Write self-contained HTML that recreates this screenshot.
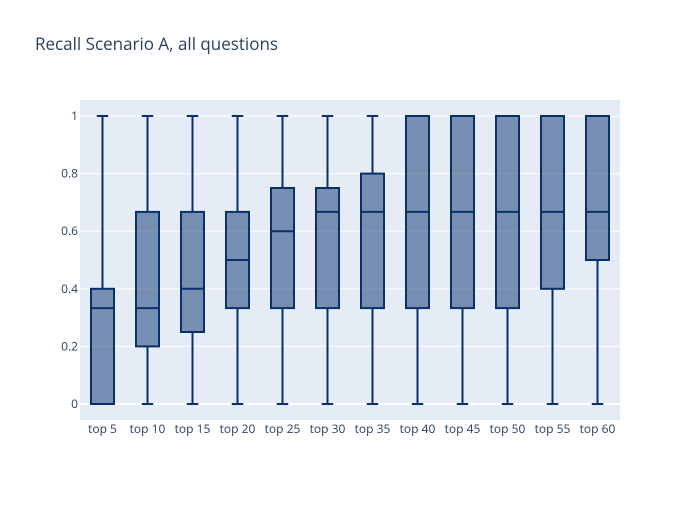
<!DOCTYPE html>
<html><head><meta charset="utf-8"><style>
body{margin:0;background:#fff;font-family:"Liberation Sans",sans-serif;}
svg text{font-family:"Open Sans","Liberation Sans",sans-serif;fill:#2a3f5f;}
</style></head><body>
<svg id="chart" width="700" height="500">
<rect width="700" height="500" fill="#fff"/>
<text x="35" y="50" font-size="17">Recall Scenario A, all questions</text>
<rect x="80" y="100" width="540" height="320" fill="#e5ecf6"/>
<g id="grid"></g><g id="boxes"></g><g id="xticks"></g><g id="yticks"></g>
</svg>
<script>
const categories=["top 5","top 10","top 15","top 20","top 25","top 30","top 35","top 40","top 45","top 50","top 55","top 60"];
const mins=[0,0,0,0,0,0,0,0,0,0,0,0];
const q1s=[0,0.2,0.25,0.333,0.333,0.333,0.333,0.333,0.333,0.333,0.4,0.5];
const medians=[0.333,0.333,0.4,0.5,0.6,0.667,0.667,0.667,0.667,0.667,0.667,0.667];
const q3s=[0.4,0.667,0.667,0.667,0.75,0.75,0.8,1,1,1,1,1];
const maxs=[1,1,1,1,1,1,1,1,1,1,1,1];
const yTicks=[0,0.2,0.4,0.6,0.8,1];
const yTickLabels=["0","0.2","0.4","0.6","0.8","1"];
const NS="http://www.w3.org/2000/svg";
const x0=80,pw=540,band=pw/categories.length;
function xc(i){return x0+band*(i+0.5);}
function y(v){return 404-v*288;}
function mk(tag,attrs,parent){const e=document.createElementNS(NS,tag);for(const k in attrs)e.setAttribute(k,attrs[k]);document.getElementById(parent).appendChild(e);return e;}
yTicks.forEach((t,i)=>{
  const l=mk("line",{x1:80,x2:620,y1:y(t),y2:y(t),stroke:t===0?"#fff":"#fff","stroke-width":t===0?2:1},"grid");
  
  
  const tx=mk("text",{x:78,y:y(t)+4,"text-anchor":"end","font-size":12},"yticks");
  tx.textContent=yTickLabels[i];
  
  
});
const col="rgb(8,48,107)",bw=23,cw=11.5;
categories.forEach((c,i)=>{
  const cx=xc(i);
  const g=mk("g",{},"boxes");
  
  
  const add=(tag,a)=>{const e=document.createElementNS(NS,tag);for(const k in a)e.setAttribute(k,a[k]);g.appendChild(e);return e;};
  add("line",{x1:cx,x2:cx,y1:y(maxs[i]),y2:y(q3s[i]),stroke:col,"stroke-width":2});
  add("line",{x1:cx,x2:cx,y1:y(q1s[i]),y2:y(mins[i]),stroke:col,"stroke-width":2});
  add("line",{x1:cx-cw/2,x2:cx+cw/2,y1:y(maxs[i]),y2:y(maxs[i]),stroke:col,"stroke-width":2});
  add("line",{x1:cx-cw/2,x2:cx+cw/2,y1:y(mins[i]),y2:y(mins[i]),stroke:col,"stroke-width":2});
  add("rect",{x:cx-bw/2,y:y(q3s[i]),width:bw,height:Math.max(0,y(q1s[i])-y(q3s[i])),fill:"rgba(8,48,107,0.5)",stroke:col,"stroke-width":2});
  add("line",{x1:cx-bw/2,x2:cx+bw/2,y1:y(medians[i]),y2:y(medians[i]),stroke:col,"stroke-width":2});
  const tx=mk("text",{x:cx,y:433,"text-anchor":"middle","font-size":12},"xticks");
  tx.textContent=c;
  
  
});
</script>
</body></html>
